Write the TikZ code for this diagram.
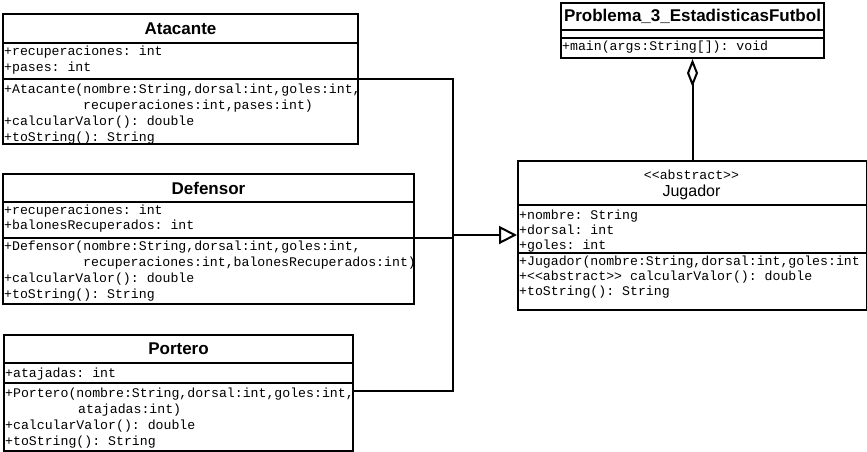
\documentclass[tikz,border=0pt]{standalone}
\usepackage{fontspec}
\setmainfont{Liberation Sans}
\setmonofont{Liberation Mono}
\usetikzlibrary{arrows.meta}

\tikzset{
  x=1pt, y=-1pt,
  sec/.style={draw, rectangle, line width=2pt, inner sep=0pt, anchor=north west},
  ttl/.style={font=\fontsize{17}{20}\selectfont\bfseries, inner sep=0pt},
  mem/.style={font=\fontsize{13.2}{16}\selectfont\ttfamily, align=left, anchor=north west, inner sep=0pt},
  memj/.style={mem, font=\fontsize{13.2}{15}\selectfont\ttfamily},
  link/.style={line width=2pt},
}

\begin{document}
\begin{tikzpicture}
\useasboundingbox (0,0) rectangle (867,451);

% ---- Atacante ----
\node[sec, minimum width=355pt, minimum height=29pt] (ata-t) at (2,13) {};
\node[sec, minimum width=355pt, minimum height=36pt] (ata-a) at (2,42) {};
\node[sec, minimum width=355pt, minimum height=65pt] (ata-m) at (2,78) {};
\node[ttl] (ata-n) at (ata-t.center) {Atacante};
\node[mem] (ata-at) at (4,44.5) {\strut+recuperaciones: int\\+pases: int};
\node[mem] (ata-me) at (4,81.8) {\strut+Atacante(nombre:String,dorsal:int,goles:int,\\
  \hspace*{79pt}recuperaciones:int,pases:int)\\
  +calcularValor(): double\\
  +toString(): String};

% ---- Defensor ----
\node[sec, minimum width=411pt, minimum height=28pt] (def-t) at (2,173) {};
\node[sec, minimum width=411pt, minimum height=36pt] (def-a) at (2,201) {};
\node[sec, minimum width=411pt, minimum height=66pt] (def-m) at (2,237) {};
\node[ttl] (def-n) at (def-t.center) {Defensor};
\node[memj] (def-at) at (4,203.8) {\strut+recuperaciones: int\\+balonesRecuperados: int};
\node[mem] (def-me) at (4,238.8) {\strut+Defensor(nombre:String,dorsal:int,goles:int,\\
  \hspace*{79pt}recuperaciones:int,balonesRecuperados:int)\\
  +calcularValor(): double\\
  +toString(): String};

% ---- Portero ----
\node[sec, minimum width=349pt, minimum height=28pt] (por-t) at (3,334) {};
\node[sec, minimum width=349pt, minimum height=20pt] (por-a) at (3,362) {};
\node[sec, minimum width=349pt, minimum height=68pt] (por-m) at (3,382) {};
\node[ttl] (por-n) at (por-t.center) {Portero};
\node[mem] (por-at) at (5,365.8) {\strut+atajadas: int};
\node[mem] (por-me) at (5,385.8) {\strut+Portero(nombre:String,dorsal:int,goles:int,\\
  \hspace*{73pt}atajadas:int)\\
  +calcularValor(): double\\
  +toString(): String};

% ---- Problema_3_EstadisticasFutbol ----
\node[sec, minimum width=263pt, minimum height=27pt] (pro-t) at (560,2) {};
\node[sec, minimum width=263pt, minimum height=8pt] (pro-a) at (560,29) {};
\node[sec, minimum width=263pt, minimum height=20pt] (pro-m) at (560,37) {};
\node[ttl] (pro-n) at (pro-t.center) {Problema\_3\_EstadisticasFutbol};
\node[mem] (pro-me) at (562,38.8) {\strut+main(args:String[]): void};

% ---- Jugador ----
\node[sec, minimum width=349pt, minimum height=44pt] (jug-t) at (517,160) {};
\node[sec, minimum width=349pt, minimum height=48pt] (jug-a) at (517,204) {};
\node[sec, minimum width=349pt, minimum height=57pt] (jug-m) at (517,252) {};
\node[font=\fontsize{13.2}{16}\selectfont\ttfamily, inner sep=0pt] (jug-s) at (691.5,175) {<<abstract>>};
\node[font=\fontsize{16}{19}\selectfont, inner sep=0pt] (jug-n) at (691.5,192) {Jugador};
\node[memj] (jug-at) at (519,208.8) {\strut+nombre: String\\+dorsal: int\\+goles: int};
\node[memj] (jug-me) at (519,254.8) {\strut+Jugador(nombre:String,dorsal:int,goles:int\\
  +<<abstract>> calcularValor(): double\\
  +toString(): String};

% ---- inheritance ----
\coordinate (join) at (452.5,235);
\draw[link] ([yshift=-1pt]ata-m.north east) -| (join);
\draw[link] ([yshift=-1pt]def-m.north east) -- ([yshift=-1pt]def-m.north east -| join);
\draw[link] ([yshift=-9pt]por-m.north east) -| (join);
\draw[link, -{Triangle[open, length=18pt, width=18pt]}] (join) -- (join -| jug-a.west);

% ---- aggregation ----
\draw[link, {Diamond[open, length=28pt, width=11pt]}-] (pro-m.south) -- (jug-t.north);
\end{tikzpicture}
\end{document}
